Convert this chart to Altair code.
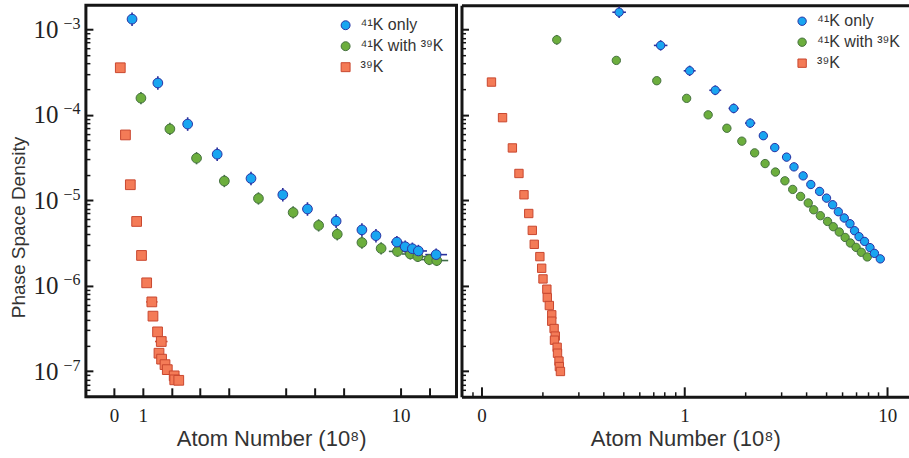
import altair as alt
import pandas as pd

# ---------------------------------------------------------------- series
SERIES = ["⁴¹K only", "⁴¹K with ³⁹K", "³⁹K"]
FILL = ["#19a5f0", "#6cae3d", "#f47b57"]
EDGE = ["#2b33a4", "#45703f", "#c9472f"]
BAR = ["#2a2f9c", "#3f6c48", "#d3523a"]
SHAPES = ["circle", "circle", "square"]

# ---------------------------------------------------------------- left panel (linear atom number)
L_ONLY_X = [0.63, 1.53, 2.57, 3.60, 4.78, 5.89, 6.75, 7.75, 8.65, 9.14, 9.87, 10.16, 10.41, 10.62, 11.24]
L_ONLY_Y = [1.32e-3, 2.36e-4, 7.8e-5, 3.46e-5, 1.8e-5, 1.16e-5, 7.9e-6, 5.7e-6, 4.5e-6,
            3.85e-6, 3.24e-6, 2.86e-6, 2.71e-6, 2.55e-6, 2.31e-6]
L_ONLY_XERR = [0.05, 0.05, 0.06, 0.07, 0.08, 0.10, 0.10, 0.12, 0.15, 0.15, 0.20, 0.22, 0.25, 0.30, 0.38]
L_ONLY_YERR = [0.20, 0.20, 0.20, 0.20, 0.20, 0.20, 0.20, 0.20, 0.20, 0.20, 0.18, 0.18, 0.18, 0.18, 0.18]

L_MIX_X = [0.94, 1.95, 2.88, 3.85, 5.04, 6.25, 7.14, 7.79, 8.65, 9.32, 9.89, 10.34, 10.60, 11.00, 11.26]
L_MIX_Y = [1.57e-4, 6.84e-5, 3.11e-5, 1.68e-5, 1.05e-5, 7.2e-6, 5.08e-6, 4.0e-6, 3.2e-6,
           2.73e-6, 2.52e-6, 2.35e-6, 2.19e-6, 2.02e-6, 1.97e-6]
L_MIX_XERR = [0.04, 0.05, 0.06, 0.07, 0.08, 0.10, 0.10, 0.12, 0.14, 0.15, 0.30, 0.30, 0.35, 0.35, 0.40]
L_MIX_YERR = [0.18, 0.18, 0.18, 0.18, 0.18, 0.18, 0.18, 0.18, 0.18, 0.18, 0.16, 0.16, 0.16, 0.16, 0.16]

L_K39_X = [0.22, 0.40, 0.57, 0.79, 0.96, 1.14, 1.32, 1.36, 1.52, 1.65, 1.57, 1.66, 1.78, 1.86, 2.10, 2.12, 2.26]
L_K39_Y = [3.56e-4, 5.82e-5, 1.52e-5, 5.65e-6, 2.26e-6, 1.08e-6, 6.46e-7, 4.4e-7, 2.88e-7,
           2.22e-7, 1.62e-7, 1.38e-7, 1.19e-7, 1.04e-7, 8.8e-8, 7.9e-8, 7.8e-8]
L_K39_XERR = [0.02, 0.03, 0.03, 0.04, 0.05, 0.06, 0.20, 0.15, 0.15, 0.22, 0.10, 0.12, 0.12, 0.12, 0.15, 0.15, 0.15]
L_K39_YERR = [0.08, 0.08, 0.08, 0.08, 0.08, 0.08, 0.10, 0.12, 0.12, 0.12, 0.10, 0.10, 0.10, 0.10, 0.10, 0.10, 0.10]

# ---------------------------------------------------------------- right panel (log atom number)
R_ONLY_X = [0.477, 0.764, 1.062, 1.42, 1.75, 2.11, 2.45, 2.79, 3.19, 3.47, 3.85, 4.20,
            4.64, 5.02, 5.38, 5.74, 6.14, 6.55, 6.90, 7.26, 7.73, 8.22, 8.65, 9.24]
R_ONLY_Y = [1.59e-3, 6.5e-4, 3.28e-4, 1.94e-4, 1.19e-4, 8.0e-5, 5.7e-5, 4.14e-5, 3.2e-5, 2.46e-5,
            1.93e-5, 1.53e-5, 1.27e-5, 1.06e-5, 8.86e-6, 7.34e-6, 6.2e-6, 5.31e-6, 4.4e-6,
            3.75e-6, 3.3e-6, 2.79e-6, 2.39e-6, 2.06e-6]
R_ONLY_XERR = [0.08, 0.08, 0.07, 0.07, 0.06, 0.06, 0.05, 0.05, 0.05, 0.04, 0.04, 0.04,
               0.04, 0.04, 0.04, 0.04, 0.04, 0.04, 0.04, 0.04, 0.04, 0.04, 0.04, 0.04]
R_ONLY_YERR = [0.17, 0.15, 0.15, 0.14, 0.14, 0.13, 0.12, 0.12, 0.12, 0.12, 0.12, 0.12,
               0.12, 0.12, 0.12, 0.12, 0.12, 0.12, 0.12, 0.12, 0.12, 0.12, 0.12, 0.12]

R_MIX_X = [0.235, 0.462, 0.731, 1.026, 1.31, 1.62, 1.92, 2.22, 2.50, 2.81, 3.13, 3.42,
           3.74, 4.08, 4.34, 4.68, 5.08, 5.42, 5.80, 6.20, 6.58, 7.02, 7.45, 7.97]
R_MIX_Y = [7.56e-4, 4.34e-4, 2.51e-4, 1.56e-4, 1.0e-4, 6.97e-5, 4.92e-5, 3.59e-5, 2.69e-5, 2.14e-5,
           1.69e-5, 1.34e-5, 1.11e-5, 9.3e-6, 7.74e-6, 6.6e-6, 5.65e-6, 4.9e-6, 4.25e-6,
           3.67e-6, 3.16e-6, 2.81e-6, 2.46e-6, 2.17e-6]
R_MIX_XERR = [0.02, 0.02, 0.02, 0.02, 0.02, 0.02, 0.02, 0.02, 0.02, 0.02, 0.02, 0.02,
              0.02, 0.02, 0.02, 0.02, 0.02, 0.02, 0.02, 0.02, 0.02, 0.02, 0.02, 0.02]
R_MIX_YERR = [0.14, 0.06, 0.05, 0.05, 0.05, 0.05, 0.05, 0.05, 0.05, 0.05, 0.05, 0.05,
              0.05, 0.05, 0.05, 0.05, 0.05, 0.05, 0.05, 0.05, 0.05, 0.05, 0.05, 0.05]

R_K39_X = [0.112, 0.127, 0.142, 0.153, 0.162, 0.171, 0.178, 0.182, 0.194, 0.198, 0.201, 0.210,
           0.211, 0.216, 0.222, 0.222, 0.228, 0.231, 0.229, 0.236, 0.237, 0.241, 0.242, 0.245]
R_K39_Y = [2.42e-4, 9.27e-5, 4.1e-5, 2.06e-5, 1.16e-5, 7.0e-6, 4.44e-6, 3.05e-6, 2.19e-6, 1.6e-6,
           1.2e-6, 9.1e-7, 7.26e-7, 5.86e-7, 4.56e-7, 3.84e-7, 3.15e-7, 2.57e-7, 2.3e-7,
           1.9e-7, 1.62e-7, 1.31e-7, 1.13e-7, 9.9e-8]
R_K39_XERR = [0.02, 0.02, 0.02, 0.02, 0.02, 0.02, 0.02, 0.02, 0.02, 0.02, 0.02, 0.02,
              0.02, 0.02, 0.02, 0.02, 0.02, 0.02, 0.02, 0.02, 0.02, 0.02, 0.02, 0.02]
R_K39_YERR = [0.09, 0.08, 0.08, 0.08, 0.08, 0.08, 0.08, 0.08, 0.08, 0.08, 0.08, 0.08,
              0.08, 0.08, 0.08, 0.08, 0.08, 0.08, 0.08, 0.08, 0.08, 0.08, 0.08, 0.08]

# ---------------------------------------------------------------- axes
Y_DOMAIN = [5.0e-8, 1.92e-3]
Y_MAJOR = [1e-7, 1e-6, 1e-5, 1e-4, 1e-3]
Y_BASE = ["10", "10", "10", "10", "10"]
Y_EXPONENT = ["−7", "−6", "−5", "−4", "−3"]
Y_MINOR = [m * d for d in [1e-8, 1e-7, 1e-6, 1e-5, 1e-4, 1e-3] for m in range(2, 10)
           if Y_DOMAIN[0] <= m * d <= Y_DOMAIN[1]]

L_X_DOMAIN = [-0.98, 11.95]
L_X_LABELS = [0, 1, 10]
L_X_TICKS = [0, 1, 2, 3, 4, 6, 7, 8, 10, 11]

R_X_DOMAIN = [0.0797, 12.8]
R_X_MAJOR = [0.1, 1, 10]
R_X_LABELS = ["0", "1", "10"]
R_X_MINOR = [0.09, 0.2, 0.3, 0.4, 0.5, 0.6, 0.7, 0.8, 0.9, 2, 3, 4, 5, 6, 7, 8, 9]

X_TITLE = "Atom Number (10⁸)"
Y_TITLE = "Phase Space Density"

INK = "#151515"
SERIF = "Liberation Serif"
SANS = "Liberation Sans"


def frame(groups, log_x):
    rows = []
    for name, xs, ys, xerr, yerr in groups:
        for x, y, ex, ey in zip(xs, ys, xerr, yerr):
            if log_x:
                xlo, xhi = x / (1 + ex), x * (1 + ex)
            else:
                xlo, xhi = x - ex, x + ex
            rows.append(dict(series=name, x=x, y=y, xlo=xlo, xhi=xhi,
                             ylo=y / (1 + ey), yhi=y * (1 + ey)))
    return pd.DataFrame(rows)


# drawing order: green, orange, then blue on top
left_df = frame([
    (SERIES[1], L_MIX_X, L_MIX_Y, L_MIX_XERR, L_MIX_YERR),
    (SERIES[2], L_K39_X, L_K39_Y, L_K39_XERR, L_K39_YERR),
    (SERIES[0], L_ONLY_X, L_ONLY_Y, L_ONLY_XERR, L_ONLY_YERR),
], log_x=False)

right_df = frame([
    (SERIES[1], R_MIX_X, R_MIX_Y, R_MIX_XERR, R_MIX_YERR),
    (SERIES[2], R_K39_X, R_K39_Y, R_K39_XERR, R_K39_YERR),
    (SERIES[0], R_ONLY_X, R_ONLY_Y, R_ONLY_XERR, R_ONLY_YERR),
], log_x=True)


def ternary(values, labels):
    # label lookup for tick values spaced by decades
    expr = f"'{labels[-1]}'"
    for v, lab in reversed(list(zip(values[:-1], labels[:-1]))):
        expr = f"datum.value < {v * 3:g} ? '{lab}' : " + expr
    return expr


def bare(**kw):
    base = dict(grid=False, domain=False, ticks=False, labels=False, title=None)
    base.update(kw)
    return alt.Axis(**base)


def tick_axis(orient, values, size, width):
    return bare(orient=orient, values=values, ticks=True, tickSize=size,
                tickWidth=width, tickColor=INK, offset=-size)


def panel(df, xscale, x_main, x_major_ticks, x_minor_ticks, y_main, y_sup, legend_offset,
          pt_size, legend_size, open_frame):
    yscale = alt.Scale(type="log", domain=Y_DOMAIN, nice=False)

    # error bars, one pair of rule layers per series in its own colour
    bars = []
    for name, colour in zip(SERIES, BAR):
        sub = alt.Chart(df).transform_filter(alt.datum.series == name)
        bars.append(sub.mark_rule(strokeWidth=1.6, color=colour).encode(
            x=alt.X("x:Q", scale=xscale, axis=None),
            y=alt.Y("ylo:Q", scale=yscale, axis=None),
            y2="yhi:Q",
        ))
        bars.append(sub.mark_rule(strokeWidth=1.6, color=colour).encode(
            x=alt.X("xlo:Q", scale=xscale, axis=None),
            x2="xhi:Q",
            y=alt.Y("y:Q", scale=yscale, axis=None),
        ))

    leg = alt.Legend(
        orient="top-right", offset=legend_offset, title=None,
        labelFont=SANS, labelFontSize=16, labelColor="#333", labelOffset=7,
        symbolSize=legend_size, symbolStrokeWidth=1, rowPadding=5, padding=0,
    )
    points = alt.Chart(df).mark_point(filled=True, size=pt_size, strokeWidth=1, opacity=1).encode(
        x=alt.X("x:Q", scale=xscale, axis=x_main),
        y=alt.Y("y:Q", scale=yscale, axis=y_main),
        fill=alt.Fill("series:N", scale=alt.Scale(domain=SERIES, range=FILL), legend=leg),
        stroke=alt.Stroke("series:N", scale=alt.Scale(domain=SERIES, range=EDGE), legend=leg),
        shape=alt.Shape("series:N", scale=alt.Scale(domain=SERIES, range=SHAPES), legend=leg),
    )

    ghost = alt.Chart(df).mark_point(opacity=0)
    major = ghost.encode(
        x=alt.X("x:Q", scale=xscale, axis=x_major_ticks),
        y=alt.Y("y:Q", scale=yscale, axis=tick_axis("left", Y_MAJOR, 7, 2)),
    )
    minor = ghost.encode(
        x=alt.X("x:Q", scale=xscale, axis=x_minor_ticks),
        y=alt.Y("y:Q", scale=yscale, axis=tick_axis("left", Y_MINOR, 4, 1.5)),
    )
    layers = bars + [points, major, minor]
    if y_sup is not None:
        layers.append(ghost.encode(
            x=alt.X("x:Q", scale=xscale, axis=None),
            y=alt.Y("y:Q", scale=yscale, axis=y_sup),
        ))
    if open_frame:
        # heavy top edge and a faint right edge
        layers.append(ghost.encode(
            x=alt.X("x:Q", scale=xscale,
                    axis=bare(orient="top", domain=True, domainWidth=3, domainColor=INK)),
            y=alt.Y("y:Q", scale=yscale,
                    axis=bare(orient="right", domain=True, domainWidth=1, domainColor="#d0d0d0")),
        ))
    return alt.layer(*layers).resolve_axis(x="independent", y="independent")


x_title_kw = dict(title=X_TITLE, titleFont=SANS, titleFontSize=22, titleFontWeight="normal",
                  titleColor="#333", titlePadding=3)

left_x_main = bare(orient="bottom", values=L_X_LABELS, labels=True, format="d",
                   labelFont=SERIF, labelFontSize=19, labelColor="#222", labelPadding=10,
                   **x_title_kw)
# decade labels: the base "10" ...
left_y_main = bare(orient="left", values=Y_MAJOR, labels=True,
                   labelExpr=ternary(Y_MAJOR, Y_BASE), labelFont=SERIF, labelFontSize=25,
                   labelColor="#222", labelPadding=28,
                   title=Y_TITLE, titleFont=SANS, titleFontSize=19, titleFontWeight="normal",
                   titleColor="#333", titlePadding=4, titleY=222)
# ... and its raised exponent
left_y_sup = bare(orient="left", values=Y_MAJOR, labels=True,
                  labelExpr=ternary(Y_MAJOR, Y_EXPONENT), labelFont=SERIF, labelFontSize=16,
                  labelColor="#222", labelPadding=6, labelOffset=-6)

right_x_main = bare(orient="bottom", values=R_X_MAJOR, labels=True,
                    labelExpr=ternary(R_X_MAJOR, R_X_LABELS), labelFont=SERIF, labelFontSize=19,
                    labelColor="#222", labelPadding=10, domain=True, domainWidth=3,
                    domainColor=INK, **x_title_kw)
right_y_main = bare(orient="left", domain=True, domainWidth=3, domainColor=INK)

left = panel(
    left_df,
    alt.Scale(type="linear", domain=L_X_DOMAIN, nice=False, zero=False),
    left_x_main,
    tick_axis("bottom", L_X_TICKS, 9, 2),
    None,
    left_y_main,
    left_y_sup,
    12,
    95, 80, False,
).properties(width=371, height=392,
             view=alt.ViewBackground(stroke=INK, strokeWidth=3))

right = panel(
    right_df,
    alt.Scale(type="log", domain=R_X_DOMAIN, nice=False),
    right_x_main,
    tick_axis("bottom", R_X_MAJOR, 10, 2),
    tick_axis("bottom", R_X_MINOR, 5, 1.5),
    right_y_main,
    None,
    8,
    70, 70, True,
).properties(width=448, height=392,
             view=alt.ViewBackground(stroke="transparent", strokeWidth=0))

chart = alt.hconcat(left, right, spacing=2).resolve_scale(
    x="independent", fill="independent", stroke="independent", shape="independent",
).resolve_legend(
    fill="independent", stroke="independent", shape="independent",
).properties(
    padding={"left": 8, "top": 3, "right": 0, "bottom": 0},
    background="white",
)

chart.save("out.html", embed_options={"renderer": "svg", "actions": False})
